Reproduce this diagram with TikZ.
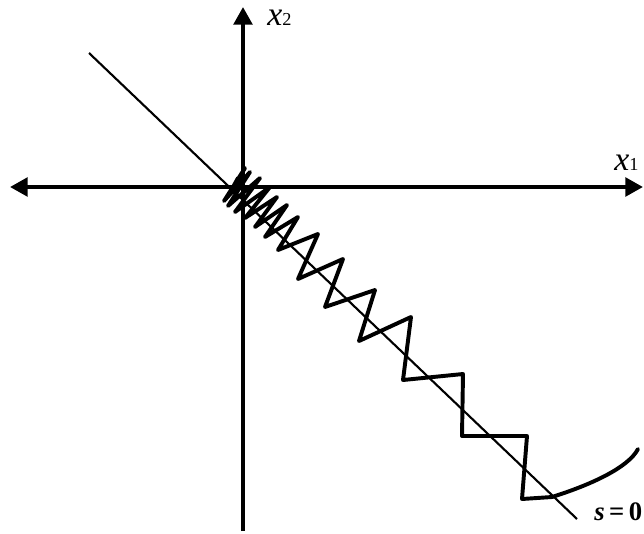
\documentclass[tikz,border=0pt]{standalone}
\usepackage{fontspec}
\setmainfont{Liberation Serif}
\usepackage{xcolor}
\definecolor{plotInk}{HTML}{000000}
\usetikzlibrary{arrows.meta}

\begin{document}
\begin{tikzpicture}[x=0.025cm, y=-0.025cm,
    axis/.style={plotInk, line width=2.9pt},
    bigtip/.tip={Triangle[length=4.4mm, width=4.6mm]},
    surface/.style={plotInk, line width=1.5pt},
    trajectory/.style={plotInk, line width=2.8pt, line join=round, line cap=round},
    axislabel/.style={inner sep=0pt, anchor=base west}]
  \useasboundingbox[fill=white] (0,0) rectangle (644,533);
  \coordinate (west) at (10,187);
  \coordinate (east) at (643,187);
  \coordinate (north) at (243,7);
  \coordinate (south) at (243,531);
  \draw[axis, bigtip-bigtip] (west) -- (east);
  \draw[axis, -bigtip] (south) -- (north);
  \coordinate (surfA) at (89,53);
  \coordinate (surfB) at (577,519);
  \draw[surface] (surfA) -- (surfB);
  \draw[trajectory] (241,186) -- (238,178) -- (228,196) -- (245,168) -- (224,201)
    -- (250,172) -- (228,206) -- (260,178) -- (235,212) -- (270,187) -- (245,218)
    -- (277,197) -- (255,227) -- (287,205) -- (265,237) -- (298,217) -- (278,250)
    -- (318,234) -- (298,279) -- (343,259) -- (325,307) -- (375,290) -- (359,341)
    -- (411,317) -- (403,380) -- (463,374) -- (462,436) -- (527,436) -- (522,499)
    -- (552,497) .. controls (590,485) and (628,468) .. (638,449);
  \node[axislabel] (labX1) at (614,170) {\fontsize{24}{24}\selectfont\itshape x\upshape\fontsize{13}{13}\selectfont 1};
  \node[axislabel] (labX2) at (267,25) {\fontsize{24}{24}\selectfont\itshape x\upshape\fontsize{13}{13}\selectfont 2};
  \node[axislabel] (labS) at (594,520) {\fontsize{19}{19}\selectfont\bfseries\itshape s\upshape\,=\,0};
\end{tikzpicture}
\end{document}
